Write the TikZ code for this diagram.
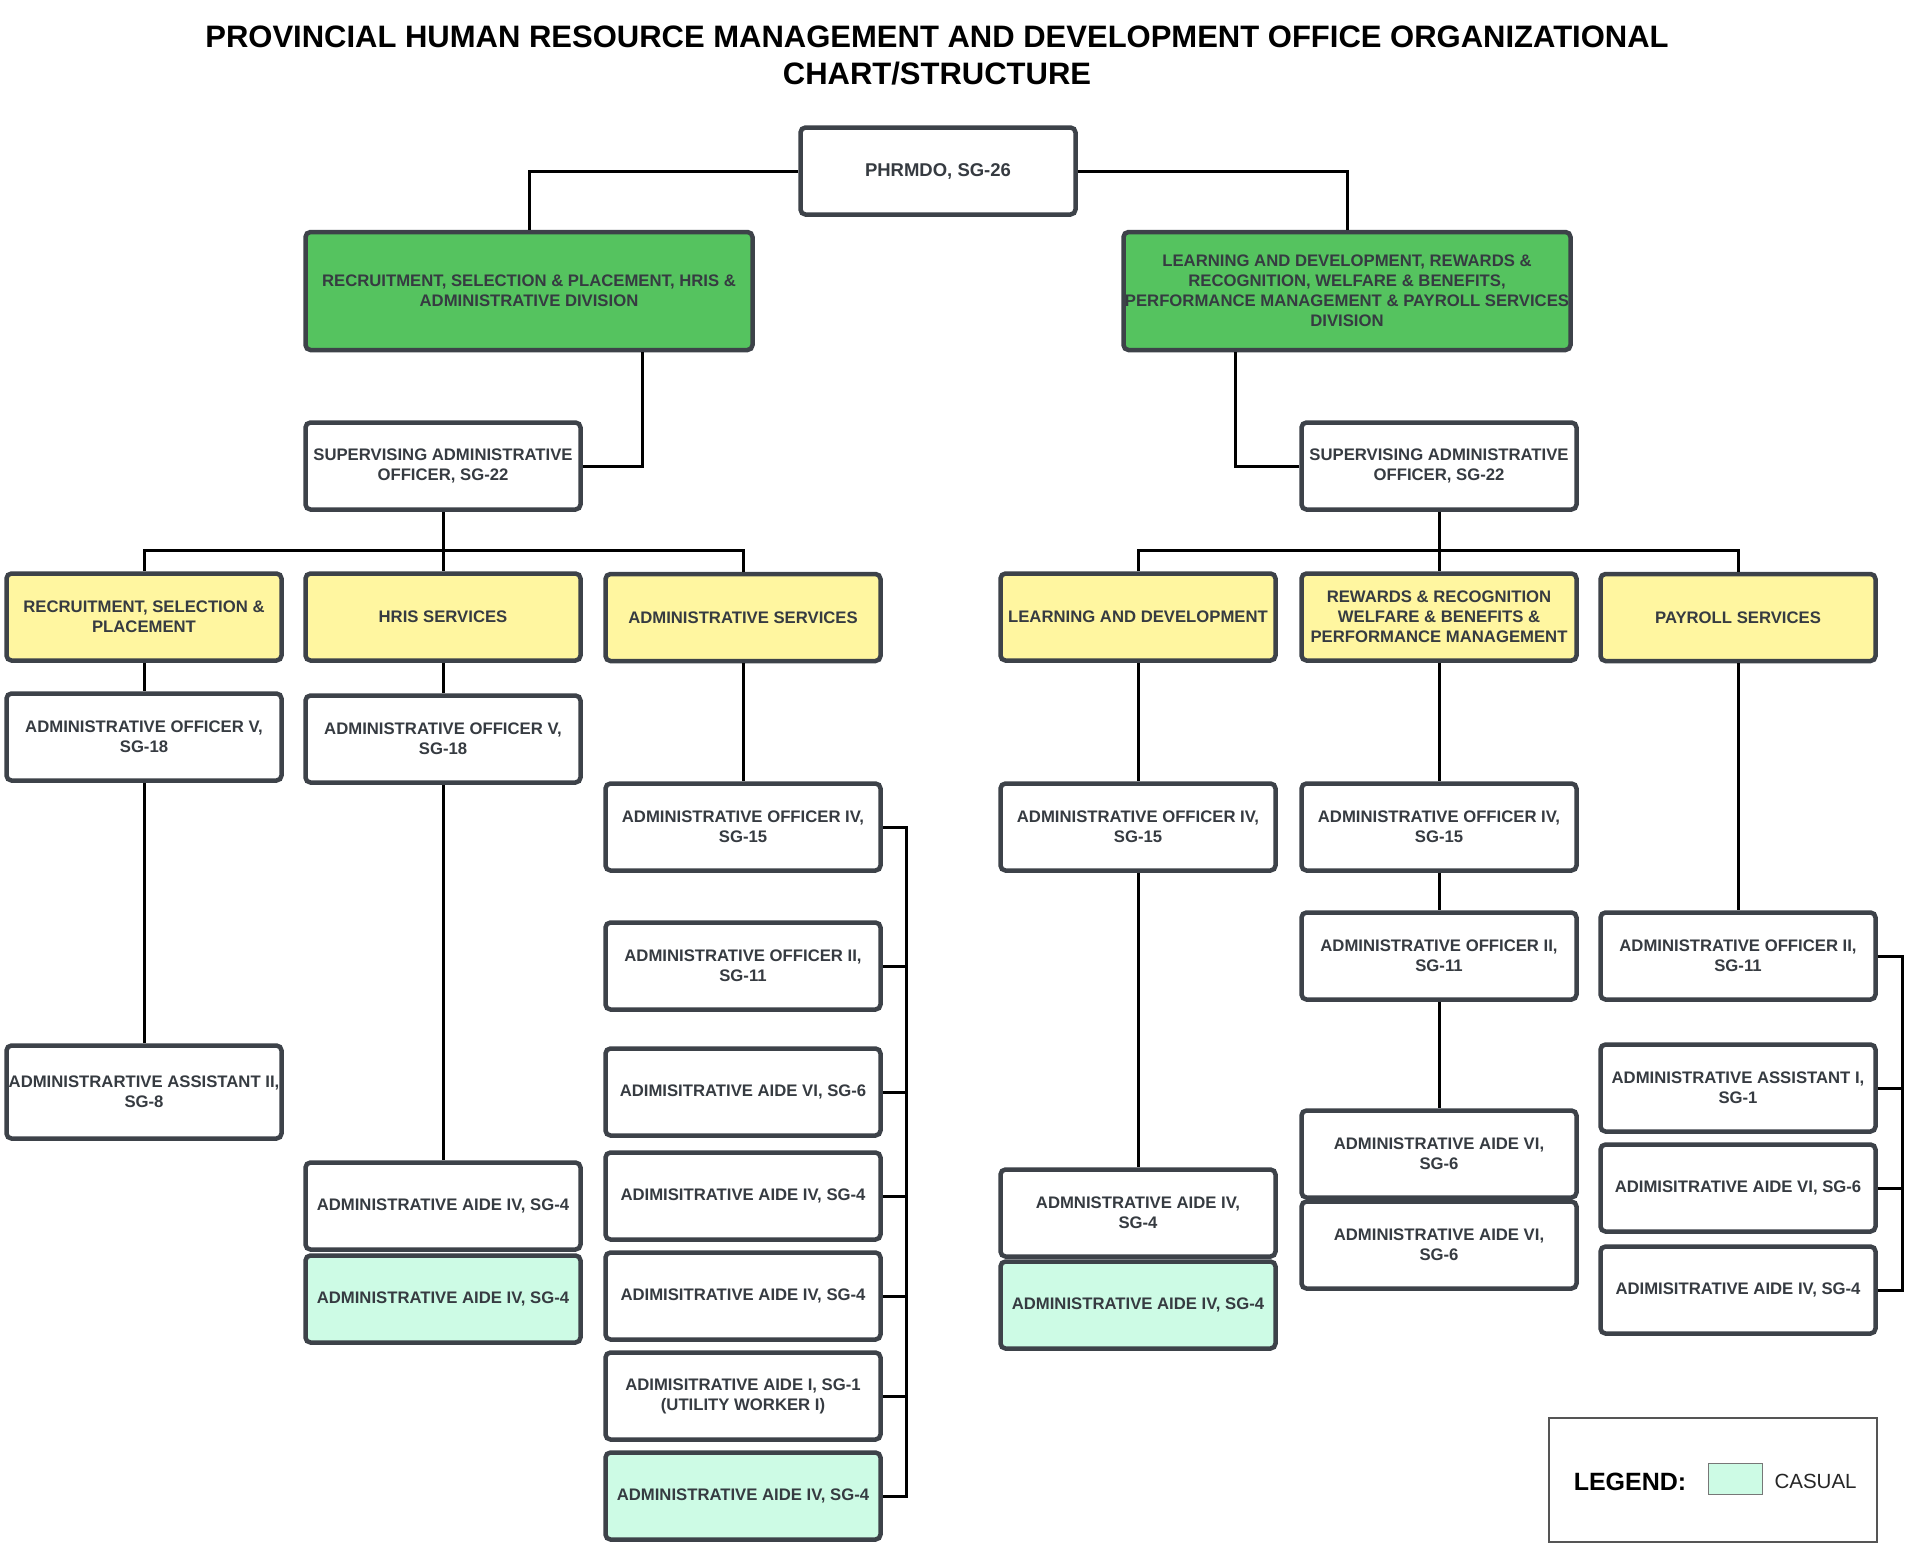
\documentclass[tikz,border=0pt]{standalone}
\usepackage{fontspec}
\setmainfont{Liberation Sans}
\usetikzlibrary{calc}
\definecolor{bordc}{HTML}{3D4249}
\definecolor{txtc}{HTML}{363B41}
\definecolor{greenc}{HTML}{55C35F}
\definecolor{yelc}{HTML}{FFF6A0}
\definecolor{mintc}{HTML}{CDFBE5}
\definecolor{legc}{HTML}{555555}
\begin{document}
\begin{tikzpicture}[x=1pt,y=-1pt,
  box/.style={draw=bordc, line width=4.5pt, rounded corners=5pt, fill=white, text=txtc,
    font=\bfseries\fontsize{16.7}{20}\selectfont, align=center,
    minimum width=275pt, minimum height=87pt, inner sep=0pt},
  divbox/.style={box, fill=greenc, minimum width=447pt, minimum height=118pt},
  secbox/.style={box, fill=yelc},
  casbox/.style={box, fill=mintc},
  conn/.style={draw=black, line width=3pt},
]
\useasboundingbox (0,0) rectangle (1911,1547);
\fill[white] (0,0) rectangle (1911,1547);

\node[font=\bfseries\fontsize{31}{37.5}\selectfont, align=center, text=black] (title) at (937,55.5)
  {PROVINCIAL HUMAN RESOURCE MANAGEMENT AND DEVELOPMENT OFFICE ORGANIZATIONAL\\CHART/STRUCTURE};

\node[box, font=\bfseries\fontsize{18.5}{22}\selectfont] (p) at (938,171) {PHRMDO, SG-26};
\node[divbox] (gL) at (529,291) {RECRUITMENT, SELECTION \& PLACEMENT, HRIS \&\\ADMINISTRATIVE DIVISION};
\node[divbox] (gR) at (1347,291) {LEARNING AND DEVELOPMENT, REWARDS \&\\RECOGNITION, WELFARE \& BENEFITS,\\PERFORMANCE MANAGEMENT \& PAYROLL SERVICES\\DIVISION};

\node[box] (sL) at (443,466) {SUPERVISING ADMINISTRATIVE\\OFFICER, SG-22};
\node[box] (sR) at (1439,466) {SUPERVISING ADMINISTRATIVE\\OFFICER, SG-22};

\node[secbox] (rsp) at (144,617) {RECRUITMENT, SELECTION \&\\PLACEMENT};
\node[secbox] (hris) at (443,617) {HRIS SERVICES};
\node[secbox] (adm) at (743,617.5) {ADMINISTRATIVE SERVICES};
\node[secbox] (ld) at (1138,617) {LEARNING AND DEVELOPMENT};
\node[secbox] (rw) at (1439,617) {REWARDS \& RECOGNITION\\WELFARE \& BENEFITS \&\\PERFORMANCE MANAGEMENT};
\node[secbox] (pay) at (1738,617.5) {PAYROLL SERVICES};

% column 1
\node[box] (a1) at (144,737) {ADMINISTRATIVE OFFICER V,\\SG-18};
\node[box, minimum height=93pt] (a2) at (144,1092) {ADMINISTRARTIVE ASSISTANT II,\\SG-8};
% column 2
\node[box] (b1) at (443,739) {ADMINISTRATIVE OFFICER V,\\SG-18};
\node[box] (b2) at (443,1206) {ADMINISTRATIVE AIDE IV, SG-4};
\node[casbox] (b3) at (443,1299) {ADMINISTRATIVE AIDE IV, SG-4};
% column 3
\node[box] (c1) at (743,827) {ADMINISTRATIVE OFFICER IV,\\SG-15};
\node[box] (c2) at (743,966) {ADMINISTRATIVE OFFICER II,\\SG-11};
\node[box] (c3) at (743,1092) {ADIMISITRATIVE AIDE VI, SG-6};
\node[box] (c4) at (743,1196) {ADIMISITRATIVE AIDE IV, SG-4};
\node[box] (c5) at (743,1296) {ADIMISITRATIVE AIDE IV, SG-4};
\node[box] (c6) at (743,1396) {ADIMISITRATIVE AIDE I, SG-1\\(UTILITY WORKER I)};
\node[casbox] (c7) at (743,1496) {ADMINISTRATIVE AIDE IV, SG-4};
% column 4
\node[box] (d1) at (1138,827) {ADMINISTRATIVE OFFICER IV,\\SG-15};
\node[box] (d2) at (1138,1213) {ADMNISTRATIVE AIDE IV,\\SG-4};
\node[casbox] (d3) at (1138,1305) {ADMINISTRATIVE AIDE IV, SG-4};
% column 5
\node[box] (e1) at (1439,827) {ADMINISTRATIVE OFFICER IV,\\SG-15};
\node[box] (e2) at (1439,956) {ADMINISTRATIVE OFFICER II,\\SG-11};
\node[box] (e3) at (1439,1154) {ADMINISTRATIVE AIDE VI,\\SG-6};
\node[box] (e4) at (1439,1245) {ADMINISTRATIVE AIDE VI,\\SG-6};
% column 6
\node[box] (f1) at (1738,956) {ADMINISTRATIVE OFFICER II,\\SG-11};
\node[box] (f2) at (1738,1088) {ADMINISTRATIVE ASSISTANT I,\\SG-1};
\node[box] (f3) at (1738,1188) {ADIMISITRATIVE AIDE VI, SG-6};
\node[box] (f4) at (1738,1290) {ADIMISITRATIVE AIDE IV, SG-4};

% connector helper coordinates
\coordinate (gLx) at (642,0);
\coordinate (gRx) at (1235,0);
\coordinate (bus) at (0,550);
\coordinate (brL) at (906,0);
\coordinate (brR) at (1902,0);

\path[conn] (p.west) -| (gL.north);
\path[conn] (p.east) -| (gR.north);
\path[conn] (sL.east) -| (gLx |- gL.south);
\path[conn] (sR.west) -| (gRx |- gR.south);
\path[conn] (sL.south) -- (hris.north);
\path[conn] (rsp.north) |- (hris.north |- bus) -| (adm.north);
\path[conn] (sR.south) -- (rw.north);
\path[conn] (ld.north) |- (rw.north |- bus) -| (pay.north);
\path[conn] (rsp.south) -- (a1.north);
\path[conn] (a1.south) -- (a2.north);
\path[conn] (hris.south) -- (b1.north);
\path[conn] (b1.south) -- (b2.north);
\path[conn] (adm.south) -- (c1.north);
\path[conn] (ld.south) -- (d1.north);
\path[conn] (d1.south) -- (d2.north);
\path[conn] (rw.south) -- (e1.north);
\path[conn] (e1.south) -- (e2.north);
\path[conn] (e2.south) -- (e3.north);
\path[conn] (pay.south) -- (f1.north);
\path[conn] (c1.east) -- (brL |- c1.east) -- (brL |- c7.east) -- (c7.east);
\foreach \n in {c2,c3,c4,c5,c6} \path[conn] (\n.east) -- (brL |- \n.east);
\path[conn] (f1.east) -- (brR |- f1.east) -- (brR |- f4.east) -- (f4.east);
\foreach \n in {f2,f3} \path[conn] (\n.east) -- (brR |- \n.east);

% legend
\node[draw=legc, line width=2pt, minimum width=328pt, minimum height=124pt, inner sep=0pt] (leg) at (1713,1480) {};
\node[font=\bfseries\fontsize{25}{30}\selectfont, text=black] (legt) at (1630,1482) {LEGEND:};
\node[draw=legc!80, line width=1.5pt, fill=mintc, minimum width=54pt, minimum height=31pt, inner sep=0pt] (sw) at (1735.5,1479) {};
\node[font=\fontsize{20.5}{24}\selectfont, text=black!85, anchor=west] (legc) at (1771,1481) {CASUAL};
\end{tikzpicture}
\end{document}
